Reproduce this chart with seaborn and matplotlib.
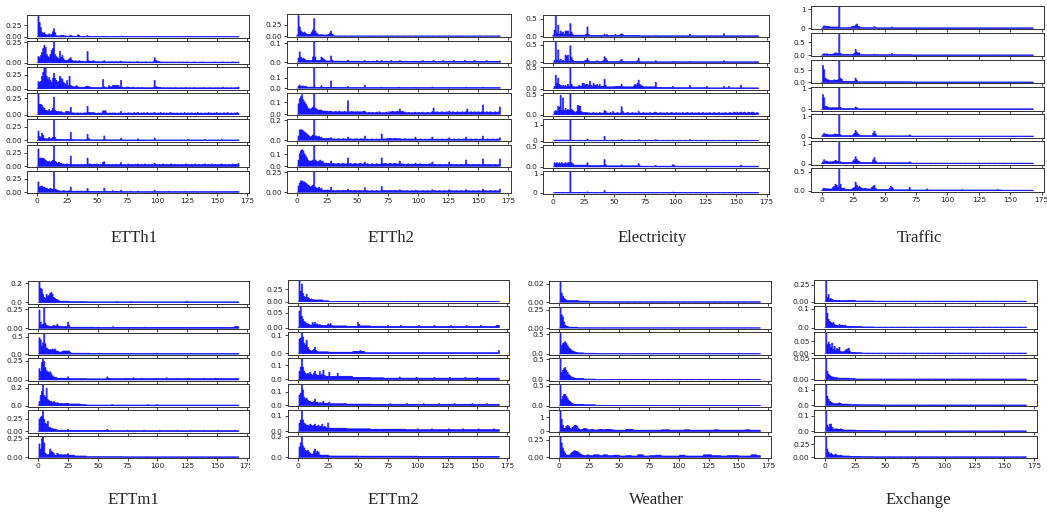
import numpy as np
import matplotlib
matplotlib.use("Agg")
import matplotlib.pyplot as plt
from matplotlib.transforms import Bbox
import seaborn as sns

sns.set_theme(style="ticks")
plt.rcParams["font.family"] = ["DejaVu Sans"]

x_ticks = [0, 25, 50, 75, 100, 125, 150, 175]

# Amplitude spectra: every row holds bins 0..168 in percent of that row's peak.
# *_peak is the peak amplitude of each row, *_ytick the upper y tick of each row.

# ---------------- ETTh1 ----------------
etth1_peak = [0.45, 0.25, 0.375, 0.31, 0.378, 0.378, 0.378]
etth1_ytick = [0.25, 0.25, 0.25, 0.25, 0.25, 0.25, 0.25]
etth1_pct = [
    [0,100,70,45,22,18,20,12,10,8,15,10,12,25,40,20,6,5,5,4,8,7,8,4,
     5,4,3,5,8,4,3,3,2,3,10,8,3,2,2,2,2,3,6,2,2,2,2,2,
     2,2,2,2,2,1,2,2,3,2,2,1,2,2,2,1,2,1,2,2,1,2,3,1,
     2,1,1,2,1,1,2,1,1,2,1,1,1,2,1,1,1,1,2,1,1,1,1,1,
     1,1,2,1,1,1,1,1,2,1,1,1,1,1,1,1,2,1,1,1,1,1,1,1,
     1,1,1,1,1,2,1,1,1,1,1,1,1,1,1,1,1,2,1,1,1,1,1,1,
     1,1,1,1,1,1,1,1,2,1,1,1,1,1,1,1,1,1,1,1,1,1,1,1,2],
    [0,30,25,35,50,70,85,75,40,30,25,40,60,70,100,40,30,25,20,55,25,35,20,12,
     12,10,15,20,25,12,8,8,10,8,6,10,8,6,8,6,5,8,55,10,8,6,8,10,
     6,5,5,6,5,4,5,6,10,5,4,5,5,4,6,5,4,5,6,4,5,5,8,4,
     4,5,4,3,4,4,5,3,4,4,3,5,6,3,4,3,4,3,4,5,3,3,4,3,
     4,5,25,12,8,6,5,4,3,4,3,3,4,3,3,3,4,3,3,3,3,3,4,3,
     3,3,4,3,3,4,3,3,2,3,3,4,3,3,2,3,3,3,4,3,3,2,3,3,
     3,2,3,3,4,3,3,2,3,3,3,4,3,2,3,3,3,2,3,4,3,3,3,2,4],
    [0,35,30,35,60,80,100,100,60,45,55,40,30,50,75,50,40,30,35,60,50,45,30,25,
     20,40,15,60,15,12,10,8,10,15,8,8,6,8,6,6,8,12,12,10,8,6,6,5,
     6,5,5,6,5,5,6,45,10,6,5,5,15,10,8,15,15,15,15,15,15,6,40,8,
     6,5,5,8,8,6,5,5,8,5,4,5,6,4,5,5,6,4,5,4,5,4,5,4,
     5,5,40,10,8,8,6,6,5,4,5,4,4,5,4,4,5,4,4,5,5,4,4,4,
     5,4,4,4,6,4,4,5,4,4,4,6,4,4,4,4,5,4,4,6,4,4,4,4,
     6,4,4,4,4,5,4,5,4,4,4,8,4,4,5,4,4,4,5,4,4,4,5,4,8],
    [0,100,50,50,45,35,30,20,20,15,25,15,20,30,85,20,15,15,15,12,15,10,8,8,
     15,15,15,12,35,8,8,8,6,8,8,6,8,6,6,8,8,8,40,10,10,8,10,10,
     8,6,6,8,6,8,6,18,18,18,8,6,6,8,6,8,6,8,6,6,8,6,15,6,
     6,8,6,6,9,6,8,6,6,10,6,8,10,6,6,8,6,9,6,6,10,6,6,8,
     6,8,10,6,6,8,6,10,6,6,8,6,8,6,6,10,8,6,8,6,6,8,6,6,
     8,6,6,10,6,6,8,6,6,9,6,6,8,6,10,6,6,8,6,6,8,6,6,10,
     6,8,6,6,8,6,10,6,6,8,6,6,9,6,6,10,6,6,8,6,6,8,6,10,6],
    [0,45,20,15,35,25,10,8,8,8,15,8,8,15,100,15,5,5,5,4,5,4,5,4,
     4,5,4,5,40,5,4,4,3,4,3,4,3,4,3,3,4,4,30,10,4,3,3,3,
     3,3,3,3,3,3,3,3,22,4,3,3,3,3,3,3,3,3,3,3,3,3,10,3,
     3,2,3,2,3,2,3,2,3,2,3,2,8,2,3,2,3,2,3,2,3,2,3,2,
     3,2,12,3,2,3,2,3,2,3,2,3,2,3,2,3,2,3,2,3,2,3,2,3,
     2,3,2,3,2,3,4,3,2,3,2,3,2,3,2,3,2,3,2,3,4,3,2,3,
     2,3,2,3,2,3,2,3,2,3,4,3,2,3,2,3,2,3,2,3,2,3,2,3,3],
    [0,85,40,40,40,40,35,30,25,20,25,20,25,30,100,25,20,15,20,15,15,10,12,10,
     10,12,10,10,50,8,8,10,8,8,10,8,8,10,8,8,10,8,40,10,12,10,8,10,
     10,8,12,10,8,10,8,20,22,10,8,8,10,8,8,10,8,8,10,8,8,10,18,8,
     8,10,8,8,12,8,8,10,8,8,10,8,12,8,8,10,8,8,12,8,8,10,8,8,
     10,8,15,10,8,8,10,8,8,12,8,8,10,8,8,10,12,8,8,10,8,8,10,8,
     8,10,8,8,12,8,10,8,8,10,8,8,12,8,8,10,8,8,10,8,12,8,8,10,
     8,8,12,8,8,10,8,8,10,8,12,8,8,10,8,8,10,8,8,12,8,8,10,8,14],
    [0,50,25,30,30,25,25,20,20,15,15,20,15,15,100,15,12,10,8,6,6,6,8,6,
     6,6,6,8,25,5,5,5,5,6,5,5,6,5,5,5,5,5,18,5,4,4,4,4,
     4,4,4,4,4,4,4,4,20,4,4,4,4,4,4,8,4,4,4,4,4,4,10,4,
     3,3,4,3,3,3,6,3,3,3,3,3,6,3,3,3,3,3,3,3,4,3,3,3,
     3,3,10,3,3,3,3,4,3,3,3,3,3,3,5,3,3,3,3,4,3,3,3,3,
     3,3,3,4,3,3,3,3,3,3,4,3,3,3,3,3,3,3,4,3,3,3,3,3,
     3,3,4,3,3,3,3,3,3,3,4,3,3,3,3,3,4,3,3,3,3,3,4,3,4],
]

# ---------------- ETTh2 ----------------
etth2_peak = [0.46, 0.108, 0.197, 0.176, 0.208, 0.171, 0.258]
etth2_ytick = [0.25, 0.1, 0.1, 0.1, 0.2, 0.1, 0.25]
etth2_pct = [
    [5,100,45,25,20,15,20,12,10,8,8,10,20,30,85,25,15,10,6,6,8,6,6,5,
     6,6,8,15,25,10,5,1,1,1,1,1,1,1,1,1,1,1,1,1,1,1,1,1,
     1,1,1,1,1,1,1,1,1,1,1,1,1,1,1,1,1,1,1,1,1,1,1,1,
     1,1,1,1,1,1,1,1,1,1,1,1,1,1,1,1,1,1,1,1,1,1,1,1,
     1,1,1,1,1,1,1,1,1,1,1,1,1,1,1,1,1,1,1,1,1,1,1,1,
     1,1,1,1,1,1,1,1,1,1,1,1,1,1,1,1,1,1,1,1,1,1,1,1,
     1,1,1,1,1,1,1,1,1,1,1,1,1,1,1,1,1,1,1,1,1,1,1,1,1],
    [0,20,50,25,15,20,15,10,8,8,8,8,8,25,100,25,8,8,8,8,25,20,15,10,
     6,6,6,6,30,10,5,5,5,5,5,5,5,5,4,5,5,5,10,5,5,4,4,5,
     4,5,4,4,5,4,4,5,8,4,4,5,4,4,4,5,4,4,8,4,4,4,8,4,
     4,4,5,4,4,4,8,4,4,4,4,5,4,8,4,4,4,4,5,4,4,4,4,4,
     4,5,4,4,4,4,4,4,8,4,4,4,5,4,4,4,4,8,4,4,4,4,4,4,
     4,8,4,4,4,4,4,4,4,4,8,4,4,4,4,4,4,4,4,8,4,4,4,4,
     4,4,4,8,4,4,4,4,4,4,4,4,4,8,4,4,4,4,4,4,4,4,4,4,6],
    [0,10,15,8,10,10,8,10,5,5,5,5,5,5,100,5,4,4,4,4,12,4,4,4,
     4,4,4,4,35,4,4,4,4,4,3,4,3,4,3,4,3,4,8,3,3,3,3,3,
     3,3,3,3,3,3,3,3,15,3,3,3,3,3,3,3,3,3,3,3,3,3,5,3,
     3,3,3,3,3,3,3,3,3,3,3,3,5,3,3,3,3,3,3,3,3,3,3,3,
     3,3,4,3,3,3,3,3,3,3,3,3,3,3,3,3,6,3,3,3,3,3,3,3,
     3,3,3,3,3,3,4,3,3,3,3,3,3,3,3,3,3,3,3,3,5,3,3,3,
     3,3,3,3,3,3,3,3,3,3,5,3,3,3,3,3,3,3,3,3,3,3,3,3,3],
    [0,50,75,85,95,70,60,50,40,30,25,25,30,35,100,30,25,20,20,20,20,15,15,15,
     15,15,12,15,15,12,10,12,14,10,12,15,10,12,10,14,12,10,65,12,10,14,12,10,
     12,10,14,10,12,10,12,14,15,8,6,8,10,6,8,9,6,8,10,6,12,8,6,8,
     6,8,10,6,12,10,12,15,12,10,12,15,12,25,12,14,12,10,8,6,9,8,6,8,
     6,8,10,6,8,9,6,8,10,6,8,6,9,8,6,8,12,30,10,8,12,10,8,10,
     12,8,10,9,12,8,15,10,8,12,10,8,10,12,8,10,9,12,8,10,12,25,10,8,
     12,10,8,12,10,8,12,10,9,12,45,10,8,12,10,8,12,10,9,8,12,10,8,12,35],
    [0,20,50,50,50,45,40,35,30,25,20,15,20,25,100,20,20,15,20,12,15,8,8,8,
     8,8,9,8,12,6,7,6,5,6,7,6,5,6,7,6,6,5,15,6,7,6,5,6,
     6,7,6,5,6,7,6,6,20,5,6,5,4,5,6,5,4,5,6,5,4,5,30,6,
     6,5,7,8,8,9,8,7,8,9,8,7,8,8,6,5,6,7,6,5,6,6,5,6,
     5,6,15,5,4,5,6,5,4,5,6,5,4,5,6,5,15,5,4,5,6,5,4,5,
     6,5,4,5,6,5,12,5,4,5,6,5,4,5,6,5,4,5,6,5,15,5,4,5,
     6,5,4,5,6,5,4,5,6,5,20,5,4,5,6,5,4,5,6,5,4,5,6,5,12],
    [0,30,60,75,80,75,60,50,40,30,25,25,25,30,100,30,25,20,25,30,22,25,15,15,
     15,14,15,12,25,12,14,12,10,12,14,12,10,12,14,12,10,12,40,12,14,12,10,12,
     14,12,10,12,14,12,10,12,20,10,12,10,8,10,12,10,8,10,12,10,9,10,40,12,
     12,14,12,10,12,14,12,10,12,14,12,10,12,25,10,12,9,10,8,10,12,10,8,10,
     10,9,15,10,8,10,12,10,8,10,9,10,8,10,12,10,20,8,9,8,7,8,9,8,
     8,7,8,9,8,7,20,8,9,8,7,8,9,8,7,8,9,8,7,8,30,8,9,8,
     7,8,9,8,7,8,9,8,7,8,35,8,9,8,7,8,9,8,7,8,9,8,7,8,35],
    [0,30,45,55,55,50,50,45,40,35,30,25,30,35,100,25,20,20,25,15,20,10,10,10,
     10,11,10,9,25,8,9,8,7,8,9,8,7,8,9,8,7,8,15,8,9,8,7,8,
     9,8,7,8,9,8,7,8,22,7,8,7,6,7,8,7,6,7,8,7,6,7,28,8,
     8,9,8,7,8,9,8,7,8,9,8,7,8,12,7,8,7,6,7,8,7,6,7,8,
     7,6,10,7,8,7,6,7,8,7,6,7,8,7,6,7,12,7,8,7,6,7,8,7,
     6,7,8,7,6,7,12,7,8,7,6,7,8,7,6,7,8,7,6,7,12,7,8,7,
     6,7,8,7,6,7,8,7,6,7,15,7,8,7,6,7,8,7,6,7,8,7,6,7,15],
]

# ---------------- Electricity ----------------
elec_peak = [0.59, 0.59, 0.49, 0.52, 1.29, 0.518, 1.09]
elec_ytick = [0.5, 0.5, 0.5, 0.5, 1, 0.5, 1]
elec_pct = [
    [5,30,100,15,53,10,25,15,20,10,25,25,25,10,61,20,8,5,5,5,5,5,5,5,
     5,5,5,10,45,10,4,4,4,4,4,4,4,4,4,4,4,4,10,4,8,4,4,4,
     4,4,4,8,4,4,4,8,12,8,4,4,4,4,4,4,4,4,4,4,4,4,5,2,
     2,2,2,2,2,2,2,2,2,2,2,2,4,2,2,2,2,2,2,2,2,2,2,2,
     2,2,3,2,2,2,2,2,2,2,2,2,2,2,2,2,10,2,2,2,3,2,2,2,
     2,2,2,2,2,2,3,2,2,2,2,2,2,2,2,2,2,2,2,2,12,2,2,2,
     2,2,2,2,2,2,2,2,2,2,3,2,2,2,2,2,2,2,2,2,2,2,2,2,2],
    [0,10,100,10,60,8,15,5,10,5,35,30,35,5,80,25,10,5,5,5,5,5,5,5,
     5,5,8,10,20,8,4,4,4,4,4,4,8,4,4,4,4,8,27,20,10,4,4,4,
     4,4,4,4,4,4,4,8,15,5,4,4,4,4,4,4,4,4,4,4,4,8,20,4,
     3,3,3,3,3,3,3,3,3,3,3,3,8,3,3,3,3,3,3,3,3,3,3,3,
     3,3,5,3,3,3,3,3,3,3,3,3,3,3,3,3,5,3,3,3,3,3,3,3,
     3,3,3,3,3,3,3,3,3,3,3,3,3,3,3,3,3,3,3,3,8,3,3,3,
     3,3,3,3,3,3,3,3,3,3,3,3,3,3,3,3,3,3,3,3,3,3,3,3,3],
    [0,10,65,25,50,20,15,10,15,10,15,10,20,10,100,20,10,8,8,8,8,15,12,10,
     25,25,15,20,20,15,35,15,10,25,15,15,20,10,20,10,10,10,45,15,8,8,8,8,
     8,8,8,10,10,10,10,10,20,8,8,8,8,8,8,8,8,8,12,20,15,25,40,20,
     15,12,8,8,8,8,8,8,8,8,8,8,30,5,5,5,5,5,5,5,5,5,5,5,
     5,5,10,4,4,4,4,4,4,4,4,4,4,4,4,4,15,4,4,4,4,4,4,4,
     4,4,4,4,4,4,10,3,3,3,3,3,3,3,3,3,3,3,3,3,10,3,3,3,
     10,3,3,3,3,3,3,3,3,3,15,3,3,3,3,3,3,3,3,3,3,3,3,3,3],
    [0,15,20,15,40,35,93,20,80,20,30,20,25,20,100,25,20,15,10,15,45,42,40,15,
     10,10,10,10,10,8,8,6,8,10,6,8,8,6,10,8,6,8,20,15,8,6,8,10,
     6,15,8,6,8,10,6,8,38,15,8,6,8,10,8,6,8,10,6,8,8,6,15,8,
     6,8,10,6,8,8,6,10,8,6,8,10,12,8,6,8,10,6,8,8,6,10,8,6,
     8,10,8,6,8,10,6,8,8,6,10,8,6,8,10,8,6,8,10,6,8,8,6,10,
     8,6,8,10,6,8,8,6,10,8,6,8,10,8,6,8,10,6,8,8,6,10,8,6,
     8,10,8,6,12,10,8,12,6,10,12,8,10,12,6,8,12,10,8,12,10,8,6,10,8],
    [0,3,3,3,3,3,3,3,3,3,3,3,3,3,100,3,2,2,2,2,2,2,2,2,
     2,2,2,2,8,2,2,2,2,2,2,2,2,2,2,2,2,2,21,2,2,2,2,2,
     2,2,2,2,2,2,2,2,6,2,2,2,2,2,2,2,2,2,2,2,2,2,5,2,
     2,2,2,2,2,2,2,2,2,2,2,2,5,2,2,2,2,2,2,2,2,2,2,2,
     2,2,3,2,2,2,2,2,2,2,2,2,2,2,2,2,5,2,2,2,2,2,2,2,
     2,2,2,2,2,2,2,2,2,2,2,2,2,2,2,2,2,2,2,2,2,2,2,2,
     2,2,2,2,2,2,2,2,2,2,2,2,2,2,2,2,2,2,2,2,2,2,2,2,2],
    [0,20,15,20,15,20,15,20,15,15,20,15,20,20,100,20,15,8,8,8,8,8,8,8,
     8,8,8,8,20,6,6,6,6,6,6,6,6,6,6,6,6,6,35,10,5,5,5,5,
     5,5,5,5,5,5,5,5,10,5,5,5,5,5,5,5,5,5,5,5,5,5,15,5,
     3,3,3,3,3,3,3,3,3,3,3,3,6,3,3,3,3,3,3,3,3,3,3,3,
     3,3,10,8,3,3,3,3,3,3,3,3,3,3,3,3,3,3,3,3,3,3,3,3,
     3,3,3,3,3,3,3,3,3,3,3,3,3,3,3,3,3,3,3,3,3,3,3,3,
     3,3,3,3,3,3,3,3,3,3,8,3,3,3,3,3,3,3,3,3,3,3,3,3,3],
    [0,2,2,2,2,2,2,2,2,2,2,2,2,2,100,2,2,2,2,2,2,2,2,2,
     2,2,2,2,5,2,2,2,2,2,2,2,2,2,2,2,2,2,12,2,2,2,2,2,
     2,2,2,2,2,2,2,2,2,2,2,2,2,2,2,2,2,2,2,2,2,2,2,2,
     2,2,2,2,2,2,2,2,2,2,2,2,2,2,2,2,2,2,2,2,2,2,2,2,
     2,2,4,2,2,2,2,2,2,2,2,2,2,2,2,2,2,2,2,2,2,2,2,2,
     2,2,2,2,2,2,2,2,2,2,2,2,2,2,2,2,2,2,2,2,2,2,2,2,
     2,2,2,2,2,2,2,2,2,2,2,2,2,2,2,2,2,2,2,2,2,2,2,2,2],
]

# ---------------- Traffic ----------------
traffic_peak = [1.12, 0.82, 0.866, 1.0, 1.04, 1.07, 0.56]
traffic_ytick = [1, 0.5, 0.5, 1, 1, 1, 0.5]
traffic_pct = [
    [0,5,12,8,10,8,8,6,6,6,6,6,6,6,100,3,3,3,3,3,3,3,3,3,
     8,10,8,15,20,10,8,3,3,3,3,3,3,3,3,3,3,3,8,3,2,2,2,2,
     2,2,2,2,2,2,2,2,6,2,2,2,2,2,2,2,2,2,2,2,2,2,2,2,
     2,2,2,2,2,2,2,2,2,2,2,2,2,2,2,2,2,2,2,2,2,2,2,2,
     2,2,2,2,2,2,2,2,2,2,2,2,2,2,2,2,2,2,2,2,2,2,2,2,
     2,2,2,2,2,2,2,2,2,2,2,2,2,2,2,2,2,2,2,2,2,2,2,2,
     2,2,2,2,2,2,2,2,2,2,2,2,2,2,2,2,2,2,2,2,2,2,2,2,2],
    [0,4,8,5,8,5,5,5,5,5,10,12,10,8,100,10,4,4,4,4,4,4,4,4,
     4,4,10,28,15,10,12,3,3,3,3,3,3,3,3,3,3,3,5,3,3,3,3,3,
     3,3,3,3,3,3,3,3,8,3,3,3,3,3,3,3,3,3,3,3,3,3,3,3,
     2,2,2,2,2,2,2,2,2,2,2,2,2,2,2,2,2,2,2,2,2,2,2,2,
     2,2,2,2,2,2,2,2,2,2,2,2,2,2,2,2,2,2,2,2,2,2,2,2,
     2,2,2,2,2,2,2,2,2,2,2,2,2,2,2,2,2,2,2,2,2,2,2,2,
     2,2,2,2,2,2,2,2,2,2,2,2,2,2,2,2,2,2,2,2,2,2,2,2,2],
    [0,80,60,20,15,12,10,8,10,8,12,10,10,12,100,20,15,5,5,5,5,5,5,5,
     5,5,5,20,10,3,3,3,3,3,3,3,3,3,3,3,3,3,3,3,3,3,3,3,
     3,3,3,3,3,3,3,3,3,3,3,3,3,3,3,3,3,3,3,3,3,3,3,3,
     2,2,2,2,2,2,2,2,2,2,2,2,2,2,2,2,2,2,2,2,2,2,2,2,
     2,2,2,2,2,2,2,2,2,2,2,2,2,2,2,2,2,2,2,2,2,2,2,2,
     2,2,2,2,2,2,2,2,2,2,2,2,2,2,2,2,2,2,2,2,2,2,2,2,
     2,2,2,2,2,2,2,2,2,2,2,2,2,2,2,2,2,2,2,2,2,2,2,2,2],
    [0,70,55,15,15,10,8,8,8,8,8,8,8,8,100,10,4,4,4,4,4,4,4,4,
     4,4,4,12,8,3,3,3,3,3,3,3,3,3,3,3,3,3,3,3,3,3,3,3,
     3,3,3,3,3,3,3,3,3,3,3,3,3,3,3,3,3,3,3,3,3,3,3,3,
     3,3,3,3,3,3,3,3,3,3,3,3,3,3,3,3,3,3,3,3,3,3,3,3,
     3,3,3,3,3,3,3,3,3,3,3,3,3,3,3,3,3,3,3,3,3,3,3,3,
     3,3,3,3,3,3,3,3,3,3,3,3,3,3,3,3,3,3,3,3,3,3,3,3,
     3,3,3,3,3,3,3,3,3,3,3,3,3,3,3,3,3,3,3,3,3,3,3,3,3],
    [0,8,15,10,12,8,8,8,8,8,10,12,10,10,100,8,4,4,4,4,4,4,4,4,
     4,8,15,28,20,12,8,4,4,4,4,4,4,4,4,4,4,15,25,12,3,3,3,3,
     3,3,3,3,3,3,3,3,4,3,3,3,3,3,3,3,3,3,3,3,3,3,8,3,
     2,2,2,2,2,2,2,2,2,2,2,2,2,2,2,2,2,2,2,2,2,2,2,2,
     2,2,2,2,2,2,2,2,2,2,2,2,2,2,2,2,2,2,2,2,2,2,2,2,
     2,2,2,2,2,2,2,2,2,2,2,2,2,2,2,2,2,2,2,2,2,2,2,2,
     2,2,2,2,2,2,2,2,2,2,2,2,2,2,2,2,2,2,2,2,2,2,2,2,2],
    [0,8,18,10,12,8,8,8,8,8,12,15,12,10,100,8,5,5,5,5,5,5,5,5,
     5,12,18,32,20,12,10,5,5,5,5,5,5,5,5,5,5,18,28,12,4,4,4,4,
     4,4,4,4,4,4,4,4,4,4,4,4,4,4,4,4,4,4,4,4,4,4,8,4,
     2,2,2,2,2,2,2,2,2,2,2,2,2,2,2,2,2,2,2,2,2,2,2,2,
     2,2,2,2,2,2,2,2,2,2,2,2,2,2,2,2,2,2,2,2,2,2,2,2,
     2,2,2,2,2,2,2,2,2,2,2,2,2,2,2,2,2,2,2,2,2,2,2,2,
     2,2,2,2,2,2,2,2,2,2,2,2,2,2,2,2,2,2,2,2,2,2,2,2,2],
    [0,8,12,8,10,8,8,8,8,15,20,30,25,15,100,30,12,10,12,6,6,6,6,6,
     6,12,15,40,25,15,20,15,10,8,10,12,8,8,8,8,15,20,25,10,5,5,5,5,
     5,5,5,5,5,5,12,20,15,8,4,4,4,4,4,4,4,4,4,4,4,4,15,4,
     3,3,3,3,3,3,3,3,3,3,3,3,8,3,3,3,3,3,3,3,3,3,3,3,
     3,3,3,3,3,3,3,3,3,3,3,3,3,3,3,3,5,3,3,3,3,3,3,3,
     3,3,3,3,3,3,3,3,3,3,3,3,3,3,3,3,3,3,3,3,5,3,3,3,
     2,2,2,2,2,2,2,2,2,2,2,2,2,2,2,2,2,2,2,2,2,2,2,2,2],
]

# ---------------- ETTm1 ----------------
ettm1_peak = [0.215, 0.27, 0.586, 0.264, 0.227, 0.40, 0.27]
ettm1_ytick = [0.2, 0.25, 0.5, 0.25, 0.2, 0.25, 0.25]
ettm1_pct = [
    [0,100,70,65,40,25,20,40,30,35,45,50,40,25,20,15,15,10,6,6,6,6,6,6,
     6,6,4,4,4,4,4,4,4,4,4,4,4,4,4,4,4,3,3,3,3,3,3,3,
     3,3,3,3,3,3,3,3,3,3,3,3,3,3,3,3,3,3,5,3,3,3,3,3,
     3,3,3,3,3,3,5,3,3,3,3,3,3,3,3,3,3,3,3,3,3,3,3,3,
     3,3,3,3,3,3,3,3,3,3,3,3,3,3,3,3,3,3,3,3,3,3,3,3,
     3,3,3,3,3,6,3,3,3,3,3,3,3,3,3,3,3,3,3,3,3,3,3,3,
     3,3,3,3,3,3,3,3,3,3,3,3,3,3,3,3,3,3,3,3,3,3,3,3,3],
    [0,90,30,15,20,100,25,15,12,10,10,10,10,15,10,12,20,10,10,8,8,8,8,8,
     8,30,15,5,5,5,5,5,5,5,5,5,5,5,5,5,5,5,5,5,5,5,5,5,
     4,4,6,4,4,4,4,4,4,4,4,4,4,4,4,8,4,4,4,4,4,4,4,4,
     4,4,4,4,4,4,4,4,4,4,4,4,4,4,4,4,4,4,6,4,4,4,4,4,
     4,4,4,4,4,4,4,4,4,4,4,4,4,4,4,4,4,4,4,4,4,4,4,4,
     4,4,4,4,4,4,4,4,4,4,4,4,4,4,4,4,4,4,4,4,4,4,4,4,
     4,4,4,4,4,4,4,4,4,4,4,4,4,4,4,4,4,4,4,4,4,8,8,8,8],
    [0,80,70,40,55,100,50,30,25,20,22,20,25,20,25,15,15,12,10,8,12,15,15,15,
     15,15,15,8,4,4,4,4,4,4,4,4,4,4,4,4,4,4,4,4,3,3,3,3,
     3,3,3,3,3,3,3,3,3,3,3,3,3,3,3,3,3,3,3,3,3,3,3,3,
     2,2,2,2,2,2,2,2,2,2,2,2,2,2,2,2,2,2,2,2,2,2,2,2,
     2,2,2,2,2,2,2,2,2,2,2,2,2,2,2,2,2,2,2,2,2,2,2,2,
     2,2,2,2,2,2,2,2,2,2,2,2,2,2,2,2,2,2,2,2,2,2,2,2,
     2,2,2,2,2,2,2,2,2,2,2,2,2,2,2,2,2,2,2,2,2,2,2,2,2],
    [0,55,40,85,100,90,60,45,40,35,40,30,20,15,12,12,8,8,8,8,8,8,8,8,
     8,15,6,6,6,6,6,6,6,6,6,6,6,6,6,6,6,5,5,5,5,5,5,5,
     5,5,5,5,5,5,5,5,5,5,15,8,6,6,6,6,6,6,6,6,6,6,6,6,
     6,6,8,6,6,6,6,6,10,6,6,6,6,6,6,8,6,6,6,6,6,6,6,6,
     6,6,6,8,6,6,6,6,6,6,6,6,10,6,6,6,6,6,6,6,6,8,6,6,
     6,6,6,6,6,6,8,6,6,6,6,6,6,6,6,6,6,6,6,8,6,6,6,6,
     6,6,6,6,6,8,6,6,6,6,6,6,6,6,6,6,6,6,6,6,6,6,8,6,6],
    [0,20,50,70,100,50,40,85,30,25,20,22,15,20,15,10,15,12,10,10,10,10,10,10,
     10,12,8,8,8,8,8,8,8,8,8,8,5,5,5,5,5,3,3,3,3,3,3,3,
     3,3,3,3,3,3,3,3,3,3,3,3,3,3,5,3,3,3,3,3,3,3,3,3,
     3,3,3,3,3,3,3,3,3,3,3,3,3,3,3,3,3,3,3,3,5,3,3,3,
     3,3,3,3,5,3,3,3,3,3,3,3,3,3,3,3,3,3,3,3,3,3,3,3,
     3,3,3,3,3,3,3,3,3,3,3,3,3,3,3,3,3,3,3,3,3,3,3,3,
     3,3,3,3,3,3,3,3,3,3,3,3,3,3,3,3,3,3,3,3,3,3,3,3,3],
    [0,60,70,75,100,60,40,35,50,20,20,15,15,10,12,10,6,6,6,6,6,6,6,6,
     6,10,5,5,5,5,5,5,5,5,5,5,5,5,5,5,5,5,5,5,5,5,5,5,
     5,5,5,5,5,5,5,5,5,5,10,5,4,4,4,4,4,4,4,4,4,4,4,4,
     4,4,4,6,4,4,4,4,4,4,4,4,4,4,4,4,4,6,4,4,4,4,4,4,
     4,4,4,4,4,4,6,4,4,4,4,4,4,4,4,4,4,4,4,4,4,6,4,4,
     4,4,4,4,4,4,4,4,6,4,4,4,4,4,4,4,4,4,4,6,4,4,4,4,
     4,4,4,4,4,4,4,6,4,4,4,4,4,4,4,4,4,4,4,4,4,6,4,4,4],
    [0,65,40,90,100,70,20,15,10,15,40,30,25,20,10,8,20,15,12,12,12,12,12,12,
     12,18,10,10,10,10,10,6,6,6,6,6,6,6,6,6,6,3,3,3,3,3,3,3,
     3,3,3,3,3,3,3,3,3,3,3,3,3,3,3,3,3,3,3,3,3,3,3,3,
     2,2,2,2,2,2,2,2,2,2,2,2,2,2,2,2,2,2,2,2,2,2,2,2,
     2,2,2,2,2,2,2,2,2,2,2,2,2,2,2,2,2,2,2,2,2,2,2,2,
     2,2,2,2,2,2,2,2,2,2,2,2,2,2,2,2,2,2,2,2,2,2,2,2,
     2,2,2,2,2,2,2,2,2,2,2,2,2,2,2,2,2,2,2,2,2,2,2,2,2],
]

# ---------------- ETTm2 ----------------
ettm2_peak = [0.42, 0.07, 0.114, 0.146, 0.15, 0.134, 0.2]
ettm2_ytick = [0.25, 0.05, 0.1, 0.1, 0.1, 0.1, 0.2]
ettm2_pct = [
    [0,100,50,85,40,25,20,35,20,15,10,12,10,8,8,8,8,8,8,8,8,4,4,4,
     4,4,1,1,1,1,1,1,1,1,1,1,1,1,1,1,1,1,1,1,1,1,1,1,
     1,1,1,1,1,1,1,1,1,1,1,1,1,1,1,1,1,1,1,1,1,1,1,1,
     1,1,1,1,1,1,1,1,1,1,1,1,1,1,1,1,1,1,1,1,1,1,1,1,
     1,1,1,1,1,1,1,1,1,1,1,1,1,1,1,1,1,1,1,1,1,1,1,1,
     1,1,1,1,1,1,1,1,1,1,1,1,1,1,1,1,1,1,1,1,1,1,1,1,
     1,1,1,1,1,1,1,1,1,1,1,1,1,1,1,1,1,1,1,1,1,1,1,1,1],
    [0,80,100,55,40,30,25,20,18,15,12,12,25,15,25,15,18,12,15,10,10,10,10,10,
     10,18,12,20,10,8,8,8,8,8,8,8,8,8,8,8,8,6,6,6,6,6,6,6,
     6,6,25,15,8,8,8,8,8,8,8,8,8,6,6,6,6,6,6,6,6,6,6,6,
     5,5,5,10,5,5,5,5,5,5,5,5,5,5,10,5,5,5,5,5,5,5,5,5,
     5,5,5,5,5,10,5,5,5,5,5,5,5,5,5,5,5,5,10,5,5,5,5,5,
     5,5,5,5,5,5,5,5,10,5,5,5,5,5,5,5,5,5,5,5,5,10,5,5,
     5,5,5,5,5,5,5,5,5,10,5,5,5,5,5,5,5,5,5,5,5,5,10,10,10],
    [0,70,75,100,80,50,40,65,30,20,15,12,15,20,30,15,10,8,8,8,8,8,8,8,
     8,8,6,6,6,6,6,6,6,6,6,6,6,6,6,6,6,6,6,6,6,6,10,10,
     10,10,10,10,15,10,10,10,4,4,4,4,4,4,4,4,4,4,4,4,4,4,4,4,
     4,4,4,4,4,4,4,4,4,4,4,4,4,4,4,4,4,4,4,4,4,4,4,4,
     4,4,4,4,4,4,4,4,4,4,4,4,4,4,4,4,4,4,4,4,4,4,4,4,
     4,4,4,4,4,4,4,4,4,4,4,4,4,4,4,4,4,4,4,4,4,4,4,4,
     4,4,4,4,4,4,4,4,4,4,4,4,4,4,4,4,4,4,4,4,4,4,4,4,15],
    [0,40,60,100,60,40,30,25,30,25,35,25,20,30,40,25,20,20,40,20,25,45,20,15,
     15,15,35,15,15,15,15,15,15,30,15,15,15,15,15,15,15,15,15,15,15,15,10,10,
     10,10,10,10,10,10,10,10,10,10,10,10,10,8,8,8,8,8,8,8,8,8,8,8,
     6,6,6,6,6,6,6,6,6,6,6,6,6,12,6,6,6,6,6,6,6,6,6,6,
     6,6,6,10,6,6,6,6,6,6,6,6,6,6,6,6,6,6,10,6,6,6,6,6,
     6,6,6,6,6,6,6,10,6,6,6,6,6,6,6,6,6,6,6,6,10,6,6,6,
     6,6,6,6,6,6,10,6,6,6,6,6,6,6,6,6,6,6,6,6,6,6,6,6,6],
    [0,50,60,100,75,40,30,35,25,20,20,15,15,20,30,15,15,12,12,12,12,20,10,10,
     10,10,15,8,8,8,8,8,8,8,8,8,8,8,8,8,8,6,6,6,6,6,6,6,
     6,6,6,6,6,6,6,6,6,6,6,6,6,5,5,5,5,5,5,5,5,5,5,5,
     5,5,5,5,5,8,5,5,5,5,5,5,5,5,5,5,5,5,5,8,5,5,5,5,
     5,5,5,5,5,5,5,5,5,8,5,5,5,5,5,5,5,5,5,5,5,5,8,5,
     5,5,5,5,5,5,5,5,5,5,5,8,5,5,5,5,5,5,5,5,5,5,5,5,
     5,5,8,5,5,5,5,5,5,5,5,5,5,5,8,5,5,5,5,5,5,5,5,5,5],
    [0,40,55,100,55,40,35,30,30,25,35,30,25,30,35,25,25,30,22,25,35,20,25,20,
     15,40,15,15,15,15,15,15,15,15,15,15,15,15,15,15,15,12,12,12,12,12,12,12,
     12,12,12,12,12,12,12,12,12,12,12,12,12,10,10,10,10,10,10,10,10,10,10,10,
     10,10,10,10,10,10,10,10,10,10,10,10,10,10,10,10,10,10,10,8,8,8,8,8,
     8,8,8,8,12,8,8,8,8,8,8,8,8,8,8,8,12,8,8,8,8,8,8,8,
     8,8,8,8,8,8,12,8,8,8,8,8,8,8,8,8,8,8,12,8,8,8,8,8,
     8,8,8,8,8,8,8,12,8,8,8,8,8,8,8,8,8,8,8,8,12,8,8,8,8],
    [0,50,70,100,55,45,35,30,35,25,20,15,15,30,40,20,30,25,12,10,10,10,10,10,
     10,10,6,6,6,6,6,6,6,6,6,6,6,6,6,6,6,6,6,6,6,6,6,6,
     6,6,6,5,5,5,5,5,5,5,5,5,5,5,5,5,5,5,5,5,5,5,5,5,
     5,5,5,5,5,5,5,5,5,5,5,5,5,5,5,5,5,5,5,5,5,5,5,5,
     5,5,5,5,5,4,4,4,4,4,4,4,4,4,4,4,4,4,4,4,4,4,4,4,
     4,4,4,4,4,4,4,4,4,4,4,4,4,4,4,4,4,4,4,4,4,4,4,4,
     4,4,4,4,4,4,4,4,4,4,4,4,4,4,4,4,4,4,4,4,4,4,4,4,4],
]

# ---------------- Weather ----------------
weather_peak = [0.022, 0.28, 0.52, 0.5, 0.52, 1.43, 0.296]
weather_ytick = [0.02, 0.25, 0.5, 0.5, 0.5, 1, 0.25]
weather_pct = [
    [0,100,45,30,20,15,10,8,8,8,8,8,8,8,8,8,8,5,5,5,5,5,5,5,
     5,5,3,3,3,3,3,3,3,3,3,3,3,3,3,3,3,2,2,2,2,2,2,2,
     2,2,2,2,2,2,2,2,2,2,2,2,2,2,2,2,2,2,2,2,2,2,2,2,
     2,2,2,2,2,2,2,2,2,2,2,2,2,2,2,2,2,2,2,2,2,2,2,2,
     2,2,2,2,2,2,2,2,2,2,2,2,2,2,2,2,2,2,2,2,2,2,2,2,
     2,2,2,2,2,2,2,2,2,2,2,2,2,2,2,2,2,2,2,2,2,2,2,2,
     2,2,2,2,2,2,2,2,2,2,2,2,2,2,2,2,2,2,2,2,2,2,2,2,2],
    [0,100,65,55,30,15,10,8,5,4,4,4,4,4,4,4,1,1,1,1,1,1,1,1,
     1,1,1,1,1,1,1,1,1,1,1,1,1,1,1,1,1,1,1,1,1,1,1,1,
     1,1,1,1,1,1,1,1,1,1,1,1,1,1,1,1,1,1,1,1,1,1,1,1,
     1,1,1,1,1,1,1,1,1,1,1,1,1,1,1,1,1,1,1,1,1,1,1,1,
     1,1,1,1,1,1,1,1,1,1,1,1,1,1,1,1,1,1,1,1,1,1,1,1,
     1,1,1,1,1,1,1,1,1,1,1,1,1,1,1,1,1,1,1,1,1,1,1,1,
     1,1,1,1,1,1,1,1,1,1,1,1,1,1,1,1,1,1,1,1,1,1,1,1,1],
    [0,100,40,50,55,60,50,40,30,25,20,15,12,10,8,6,5,5,5,5,5,3,3,3,
     3,3,3,3,3,3,3,1,1,1,1,1,1,1,1,1,1,1,1,1,1,1,1,1,
     1,1,1,1,1,1,1,1,1,1,1,1,1,1,1,1,1,1,1,1,1,1,1,1,
     1,1,1,1,1,1,1,1,1,1,1,1,1,1,1,1,1,1,1,1,1,1,1,1,
     1,1,1,1,1,1,1,1,1,1,1,1,1,1,1,1,1,1,1,1,1,1,1,1,
     1,1,1,1,1,1,1,1,1,1,1,1,1,1,1,1,1,1,1,1,1,1,1,1,
     1,1,1,1,1,1,1,1,1,1,1,1,1,1,1,1,1,1,1,1,1,1,1,1,1],
    [0,100,35,45,55,60,45,35,25,20,15,12,10,8,6,6,6,6,6,6,6,3,3,3,
     3,3,3,3,3,3,3,1,1,1,1,1,1,1,1,1,1,1,1,1,1,1,1,1,
     1,1,1,1,1,1,1,1,1,1,1,1,1,1,1,1,1,1,1,1,1,1,1,1,
     1,1,1,1,1,1,1,1,1,1,1,1,1,1,1,1,1,1,1,1,1,1,1,1,
     1,1,1,1,1,1,1,1,1,1,1,1,1,1,1,1,1,1,1,1,1,1,1,1,
     1,1,1,1,1,1,1,1,1,1,1,1,1,1,1,1,1,1,1,1,1,1,1,1,
     1,1,1,1,1,1,1,1,1,1,1,1,1,1,1,1,1,1,1,1,1,1,1,1,1],
    [0,100,30,45,55,55,45,35,25,20,15,10,8,6,6,6,6,6,6,6,6,4,4,4,
     4,4,4,4,4,4,4,1,1,1,1,1,1,1,1,1,1,1,1,1,1,1,1,1,
     1,1,1,1,1,1,1,1,1,1,1,1,1,1,1,1,1,1,1,1,1,1,1,1,
     1,1,1,1,1,1,1,1,1,1,1,1,1,1,1,1,1,1,1,1,1,1,1,1,
     1,1,1,1,1,1,1,1,1,1,1,1,1,1,1,1,1,1,1,1,1,1,1,1,
     1,1,1,1,1,1,1,1,1,1,1,1,1,1,1,1,1,1,1,1,1,1,1,1,
     1,1,1,1,1,1,1,1,1,1,1,1,1,1,1,1,1,1,1,1,1,1,1,1,1],
    [0,100,60,30,15,15,25,30,25,15,12,20,25,30,30,25,15,10,8,10,12,15,15,12,
     8,8,8,10,10,8,6,6,8,8,10,10,10,8,8,10,10,10,10,10,8,8,6,6,
     6,6,6,6,6,6,6,6,10,10,10,10,10,10,8,6,6,6,6,6,6,6,6,6,
     6,6,6,6,6,6,6,6,6,6,6,6,6,6,8,8,8,8,8,8,8,6,6,6,
     6,6,6,6,6,6,6,6,6,8,8,8,8,8,6,6,6,6,6,6,6,6,6,6,
     6,6,6,6,6,6,6,6,6,6,8,8,8,8,6,6,6,6,6,6,6,6,6,6,
     6,6,6,6,6,6,6,6,6,6,6,6,8,8,8,8,6,6,6,6,6,6,6,6,6],
    [0,100,70,45,30,20,12,10,10,12,20,25,30,32,30,28,25,20,15,12,10,8,8,10,
     12,10,8,8,8,12,12,12,12,12,8,8,8,12,12,12,12,8,8,8,8,8,10,10,
     10,10,10,6,6,6,6,6,8,8,8,8,8,6,6,6,6,6,12,12,12,12,12,6,
     6,6,6,6,8,8,8,8,8,10,10,10,10,10,6,6,6,6,6,6,6,6,6,6,
     6,6,6,6,6,10,10,10,10,10,6,6,6,6,6,6,6,6,6,6,6,6,6,6,
     6,12,12,12,12,12,12,12,8,8,8,8,8,8,8,8,6,6,6,6,6,8,8,8,
     8,8,8,8,8,8,8,6,6,6,6,6,6,6,6,6,6,12,12,12,12,12,8,8,8],
]

# ---------------- Exchange ----------------
exchange_peak = [0.307, 0.11, 0.084, 0.049, 0.131, 0.131, 0.40]
exchange_ytick = [0.25, 0.1, 0.05, 0.05, 0.1, 0.1, 0.25]
exchange_pct = [
    [0,100,20,35,12,15,10,8,6,6,6,6,6,5,5,5,5,5,5,6,6,6,6,6,
     6,6,3,3,3,3,3,3,3,3,3,3,3,3,3,3,3,2,2,2,2,2,2,2,
     2,2,2,2,2,2,2,2,2,2,2,2,2,2,2,2,2,2,2,2,2,2,2,2,
     2,2,2,2,2,2,2,2,2,2,2,2,2,2,2,2,2,2,2,2,2,2,2,2,
     2,2,2,2,2,2,2,2,2,2,2,2,2,2,2,2,2,2,2,2,2,2,2,2,
     2,2,2,2,2,2,2,2,2,2,2,2,2,2,2,2,2,2,2,2,2,2,2,2,
     2,2,2,2,2,2,2,2,2,2,2,2,2,2,2,2,2,2,2,2,2,2,2,2,2],
    [0,100,70,40,30,25,20,25,15,12,10,8,15,10,12,10,8,12,6,6,6,6,6,5,
     5,5,5,5,5,5,5,3,3,3,3,3,3,3,3,3,3,2,2,2,2,2,2,2,
     2,2,2,2,2,2,2,2,2,2,2,2,2,2,2,2,2,2,2,2,2,2,2,2,
     2,2,2,2,2,2,2,2,2,2,2,2,2,2,2,2,2,2,2,2,2,2,2,2,
     2,2,2,2,2,2,2,2,2,2,2,2,2,2,2,2,2,2,2,2,2,2,2,2,
     2,2,2,2,2,2,2,2,2,2,2,2,2,2,2,2,2,2,2,2,2,2,2,2,
     2,2,2,2,2,2,2,2,2,2,2,2,2,2,2,2,2,2,2,2,2,2,2,2,2],
    [0,100,45,55,45,30,50,20,35,15,25,20,30,10,8,8,10,15,20,22,25,10,5,5,
     5,5,4,4,4,4,4,2,2,2,2,2,2,2,2,2,2,2,2,2,2,2,2,2,
     2,2,2,2,2,2,2,2,2,2,2,2,2,2,2,2,2,2,2,2,2,2,2,2,
     2,2,2,2,2,2,2,2,2,2,2,2,2,2,2,2,2,2,2,2,2,2,2,2,
     2,2,2,2,2,2,2,2,2,2,2,2,2,2,2,2,2,2,2,2,2,2,2,2,
     2,2,2,2,2,2,2,2,2,2,2,2,2,2,2,2,2,2,2,2,2,2,2,2,
     2,2,2,2,2,2,2,2,2,2,2,2,2,2,2,2,2,2,2,2,2,2,2,2,2],
    [0,100,40,25,20,15,12,12,10,10,8,6,6,6,6,6,6,6,6,6,6,4,4,4,
     4,4,2,2,2,2,2,2,2,2,2,2,2,2,2,2,2,2,2,2,2,2,2,2,
     2,2,2,2,2,2,2,2,2,2,2,2,2,2,2,2,2,2,2,2,2,2,2,2,
     2,2,2,2,2,2,2,2,2,2,2,2,2,2,2,2,2,2,2,2,2,2,2,2,
     2,2,2,2,2,2,2,2,2,2,2,2,2,2,2,2,2,2,2,2,2,2,2,2,
     2,2,2,2,2,2,2,2,2,2,2,2,2,2,2,2,2,2,2,2,2,2,2,2,
     2,2,2,2,2,2,2,2,2,2,2,2,2,2,2,2,2,2,2,2,2,2,2,2,2],
    [0,100,45,30,20,15,12,10,8,8,8,10,12,10,6,6,6,6,6,6,6,4,4,4,
     4,4,4,4,4,4,4,3,3,3,3,3,3,3,3,3,3,3,3,3,3,3,2,2,
     2,2,2,2,2,2,2,2,2,2,2,2,2,2,2,2,2,2,2,2,2,2,2,2,
     2,2,2,2,2,2,2,2,2,2,2,2,2,2,2,2,2,2,2,2,2,2,2,2,
     2,2,2,2,2,2,2,2,2,2,2,2,2,2,2,2,2,2,2,2,2,2,2,2,
     2,2,2,2,2,2,2,2,2,2,2,2,2,2,2,2,2,2,2,2,2,2,2,2,
     2,2,2,2,2,2,2,2,2,2,2,2,2,2,2,2,2,2,2,2,2,2,2,2,2],
    [0,100,30,20,35,35,20,12,10,12,12,10,10,12,10,8,6,6,6,6,6,6,6,6,
     6,6,4,4,4,4,4,4,4,4,4,4,4,4,4,4,4,4,4,4,4,4,2,2,
     2,2,2,2,2,2,2,2,2,2,2,2,2,2,2,2,2,2,2,2,2,2,2,2,
     2,2,2,2,2,2,2,2,2,2,2,2,2,2,2,2,2,2,2,2,2,2,2,2,
     2,2,2,2,2,2,2,2,2,2,2,2,2,2,2,2,2,2,2,2,2,2,2,2,
     2,2,2,2,2,2,2,2,2,2,2,2,2,2,2,2,2,2,2,2,2,2,2,2,
     2,2,2,2,2,2,2,2,2,2,2,2,2,2,2,2,2,2,2,2,2,2,2,2,2],
    [0,100,40,25,15,20,15,10,12,15,10,8,8,10,8,6,6,6,6,6,6,4,4,4,
     4,4,4,4,4,4,4,3,3,3,3,3,3,3,3,3,3,2,2,2,2,2,2,2,
     2,2,2,2,2,2,2,2,2,2,2,2,2,2,2,2,2,2,2,2,2,2,2,2,
     2,2,2,2,2,2,2,2,2,2,2,2,2,2,2,2,2,2,2,2,2,2,2,2,
     2,2,2,2,2,2,2,2,2,2,2,2,2,2,2,2,2,2,2,2,2,2,2,2,
     2,2,2,2,2,2,2,2,2,2,2,2,2,2,2,2,2,2,2,2,2,2,2,2,
     2,2,2,2,2,2,2,2,2,2,2,2,2,2,2,2,2,2,2,2,2,2,2,2,2],
]

panels = [
    ("ETTh1", etth1_pct, etth1_peak, etth1_ytick),
    ("ETTh2", etth2_pct, etth2_peak, etth2_ytick),
    ("Electricity", elec_pct, elec_peak, elec_ytick),
    ("Traffic", traffic_pct, traffic_peak, traffic_ytick),
    ("ETTm1", ettm1_pct, ettm1_peak, ettm1_ytick),
    ("ETTm2", ettm2_pct, ettm2_peak, ettm2_ytick),
    ("Weather", weather_pct, weather_peak, weather_ytick),
    ("Exchange", exchange_pct, exchange_peak, exchange_ytick),
]

# panel frame in pixels: left, right, top, bottom, row gap, caption x, caption y
geometry = {
    "ETTh1":       (26.6, 249.1, 15.3, 193.3, 3.3, 134, 238),
    "ETTh2":       (286.6, 510.6, 14.5, 193.3, 3.3, 391, 238),
    "Electricity": (542.5, 769.0, 14.5, 194.0, 3.3, 652, 238),
    "Traffic":     (810.5, 1044.0, 6.0, 191.7, 3.7, 919, 238),
    "ETTm1":       (27.7, 248.8, 281.0, 458.3, 3.3, 133, 500),
    "ETTm2":       (287.7, 509.5, 280.0, 458.3, 3.3, 393, 500),
    "Weather":     (548.7, 770.5, 280.7, 458.3, 3.3, 656, 500),
    "Exchange":    (814.4, 1036.6, 280.0, 458.3, 3.3, 918, 500),
}

W, H = 1047, 513
fig = plt.figure(figsize=(W / 100, H / 100), dpi=100)

for name, rows, peaks, yticks in panels:
    left, right, top, bottom, gap, tx, ty = geometry[name]
    n = len(rows)
    h = (bottom - top - gap * (n - 1)) / n
    for i, (pct, peak, yt) in enumerate(zip(rows, peaks, yticks)):
        y_top = top + i * (h + gap)
        ax = fig.add_axes([left / W, 1 - (y_top + h) / H, (right - left) / W, h / H])
        amp = np.asarray(pct, dtype=float) / 100.0 * peak
        freq = np.arange(len(amp))
        sns.barplot(x=freq, y=amp, native_scale=True, color="blue", saturation=1,
                    alpha=0.72, width=0.9, errorbar=None,
                    edgecolor="blue", linewidth=0.6, snap=False, ax=ax)
        ax.set_xlim(-8.9, 176.9)
        # 5% margin on both sides of the amplitude range
        ax.set_ylim(-0.05 * peak, peak * 1.05)
        ax.set_xticks(x_ticks)
        ax.set_yticks([0, yt])
        ax.set_xlabel("")
        ax.set_ylabel("")
        ax.tick_params(length=2, width=0.6, pad=1.5, labelsize=5.4, colors=".15")
        ax.tick_params(axis="x", labelbottom=(i == n - 1))
        for s in ax.spines.values():
            s.set_linewidth(0.7)
            s.set_color(".2")
        if name == "ETTm1" and i == n - 1:
            last = ax.get_xticklabels()[-1]
            last.set_clip_box(Bbox.from_extents(0, 0, 250, H))
            last.set_clip_on(True)
    fig.text(tx / W, 1 - ty / H, name, ha="center", va="center",
             fontsize=12, family="Liberation Serif")

fig.savefig("out.png", dpi=100)
